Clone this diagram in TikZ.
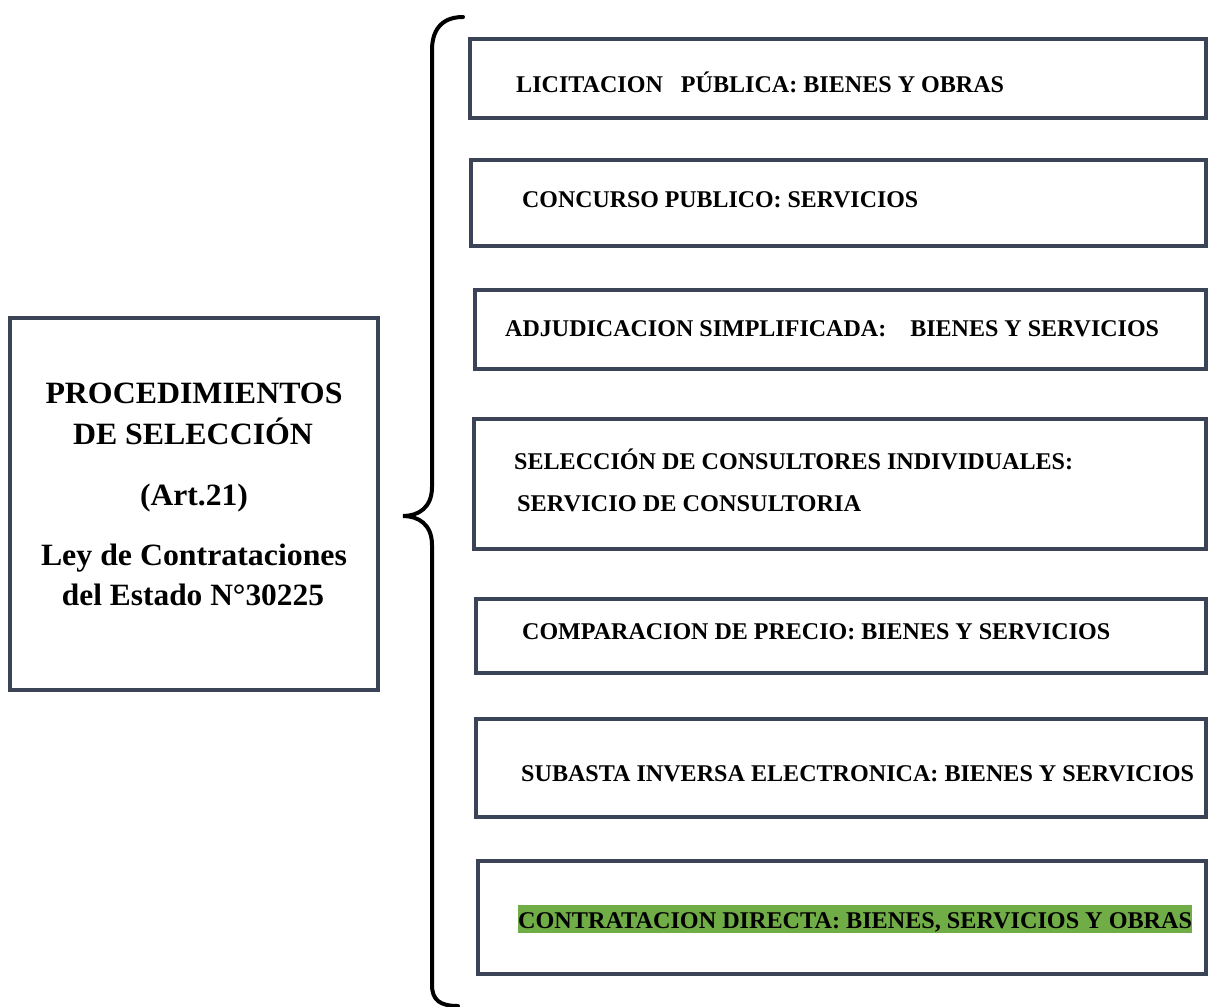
\documentclass[tikz,border=0pt]{standalone}
\usepackage{fontspec}
\setmainfont{Liberation Serif}
\usepackage{graphicx}
\newsavebox\fitbox
\newcommand\fitw[2]{\sbox\fitbox{#2}\pgfmathsetmacro\fitr{#1/\wd\fitbox}\scalebox{\fitr}[1]{\usebox\fitbox}}
\definecolor{boxline}{HTML}{3B4456}
\definecolor{hlgreen}{HTML}{70AD47}
\tikzset{
  frame/.style={draw=boxline, line width=3.6pt, inner sep=0pt, outer sep=0pt, fill=white},
  small/.style={inner sep=0pt, anchor=base west, font=\fontsize{24}{24}\selectfont\bfseries},
  big/.style={inner sep=0pt, anchor=base, font=\fontsize{31}{31}\selectfont\bfseries},
  bracket/.style={draw=black, line width=4pt, line cap=round}
}
\begin{document}
\begin{tikzpicture}[x=1pt,y=-1pt]
\useasboundingbox (0,0) rectangle (1208,1007);
\fill[white] (0,0) rectangle (1208,1007);
% left box
\node[frame, minimum width=368pt, minimum height=372pt] (main) at (194,504) {};
\node[big] (m1) at (194,403) {\fitw{297}{PROCEDIMIENTOS}};
\node[big] (m2) at (193,444) {\fitw{240}{DE SELECCIÓN}};
\node[big] (m3) at (194,505) {\fitw{108}{(Art.21)}};
\node[big] (m4) at (194,565) {\fitw{306}{Ley de Contrataciones}};
\node[big] (m5) at (193,605) {\fitw{262}{del Estado N°30225}};
% brace
\draw[bracket] (463,17) .. controls (440,17) and (432,32) .. (432,50)
  -- (432,487) .. controls (432,508) and (418,516) .. (403,516)
  .. controls (418,516) and (432,524) .. (432,545)
  -- (432,985) .. controls (432,1000) and (440,1006) .. (458,1006);
% right boxes
\node[frame, minimum width=736pt, minimum height=79pt] (b1) at (838,78.5) {};
\node[frame, minimum width=735pt, minimum height=86pt] (b2) at (838.5,203) {};
\node[frame, minimum width=731pt, minimum height=79pt] (b3) at (840.5,329.5) {};
\node[frame, minimum width=732pt, minimum height=130pt] (b4) at (840,484) {};
\node[frame, minimum width=730pt, minimum height=74pt] (b5) at (841,636) {};
\node[frame, minimum width=730pt, minimum height=98pt] (b6) at (841,768) {};
\node[frame, minimum width=728pt, minimum height=113pt] (b7) at (842,917.5) {};
% texts
\node[small] (t1) at (516,92.5) {\fitw{488}{LICITACION\ \ \ PÚBLICA: BIENES Y OBRAS}};
\node[small] (t2) at (522,207) {\fitw{396}{CONCURSO PUBLICO: SERVICIOS}};
\node[small] (t3) at (505,336) {\fitw{654}{ADJUDICACION SIMPLIFICADA:\ \ \ \ BIENES Y SERVICIOS}};
\node[small] (t4a) at (514,469.5) {\fitw{559}{SELECCIÓN DE CONSULTORES INDIVIDUALES:}};
\node[small] (t4b) at (517,511) {\fitw{344}{SERVICIO DE CONSULTORIA}};
\node[small] (t5) at (522,639) {\fitw{588}{COMPARACION DE PRECIO: BIENES Y SERVICIOS}};
\node[small] (t6) at (521,781) {\fitw{673}{SUBASTA INVERSA ELECTRONICA: BIENES Y SERVICIOS}};
\node[small, fill=hlgreen, text height=23pt, text depth=5pt] (t7) at (518,928) {\fitw{674}{CONTRATACION DIRECTA: BIENES, SERVICIOS Y OBRAS}};
\end{tikzpicture}
\end{document}
